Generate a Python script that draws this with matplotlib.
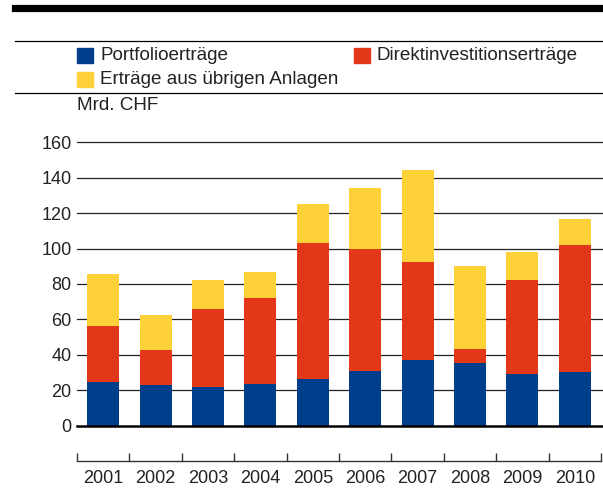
import numpy as np
import matplotlib.pyplot as plt
from matplotlib.patches import Rectangle

plt.rcParams['font.family'] = ['Liberation Sans', 'DejaVu Sans']

# Werte in Mrd. CHF
years = ['2001', '2002', '2003', '2004', '2005', '2006', '2007', '2008', '2009', '2010']
portfolio = [24.7, 22.8, 21.7, 23.4, 26.2, 30.7, 36.9, 35.2, 29.0, 30.1]
direkt = [31.5, 19.8, 44.1, 48.6, 76.9, 69.0, 55.4, 8.0, 53.2, 71.8]
uebrige = [29.3, 19.8, 16.4, 14.7, 22.0, 34.5, 52.0, 46.9, 15.8, 14.7]
yticks = [0, 20, 40, 60, 80, 100, 120, 140, 160]

labels = ['Portfolioerträge', 'Direktinvestitionserträge', 'Erträge aus übrigen Anlagen']
colors = ['#003E8C', '#E3371A', '#FFD139']
txt = '#222222'

W, H = 603, 488
fig = plt.figure(figsize=(W / 100, H / 100), dpi=100)

def fx(px):
    return px / W

def fy(py):
    return 1 - py / H

# Kopfzeile: dicker Balken und zwei feine Linien
fig.add_artist(plt.Line2D([fx(15), 1], [fy(7.5), fy(7.5)], color='black', lw=5.2))
fig.add_artist(plt.Line2D([fx(15), 1], [fy(41), fy(41)], color='black', lw=0.9))
fig.add_artist(plt.Line2D([fx(15), 1], [fy(93), fy(93)], color='black', lw=0.9))

# Legende
leg_pos = [(77, 55.5), (354, 55.5), (77, 79.5)]
for (x, y), lab, c in zip(leg_pos, labels, colors):
    fig.add_artist(Rectangle((fx(x), fy(y + 7.5)), fx(16), 15 / H, color=c, transform=fig.transFigure))
    fig.text(fx(x + 23), fy(y), lab, fontsize=13.6, color=txt, va='center', ha='left')

fig.text(fx(77), fy(106), 'Mrd. CHF', fontsize=13.6, color=txt, va='center', ha='left')

# Diagramm
ax = fig.add_axes([fx(77), fy(425.5), fx(601) - fx(77), (425.5 - 142.3) / H])
x = np.arange(len(years))
w = 0.61
bottom2 = np.array(portfolio)
bottom3 = bottom2 + np.array(direkt)
ax.bar(x, portfolio, w, color=colors[0], zorder=3)
ax.bar(x, direkt, w, bottom=bottom2, color=colors[1], zorder=3)
ax.bar(x, uebrige, w, bottom=bottom3, color=colors[2], zorder=3)

for v in yticks[1:]:
    ax.axhline(v, xmin=0, xmax=1.004, color='#222222', lw=0.9, zorder=1, clip_on=False)
ax.axhline(0, xmin=0, xmax=1.004, color='black', lw=1.8, zorder=4, clip_on=False)

ax.set_ylim(0, 160)
ax.set_xlim(-0.5, len(years) - 0.5)
ax.set_yticks(yticks)
ax.tick_params(axis='y', length=0, pad=4, labelsize=13, labelcolor=txt)

for s in ['top', 'right', 'left']:
    ax.spines[s].set_visible(False)
ax.spines['bottom'].set_position(('outward', 25.5))
ax.spines['bottom'].set_color('#333333')
ax.spines['bottom'].set_linewidth(1.0)

ax.set_xticks(np.arange(len(years) + 1) - 0.5)
ax.set_xticklabels([])
ax.set_xticks(x, minor=True)
ax.set_xticklabels(years, minor=True)
ax.tick_params(axis='x', which='major', direction='in', length=5.8, width=1.0, color='#333333')
ax.tick_params(axis='x', which='minor', length=0, pad=6.5, labelsize=13, labelcolor=txt)

fig.savefig('out.png', dpi=100)
